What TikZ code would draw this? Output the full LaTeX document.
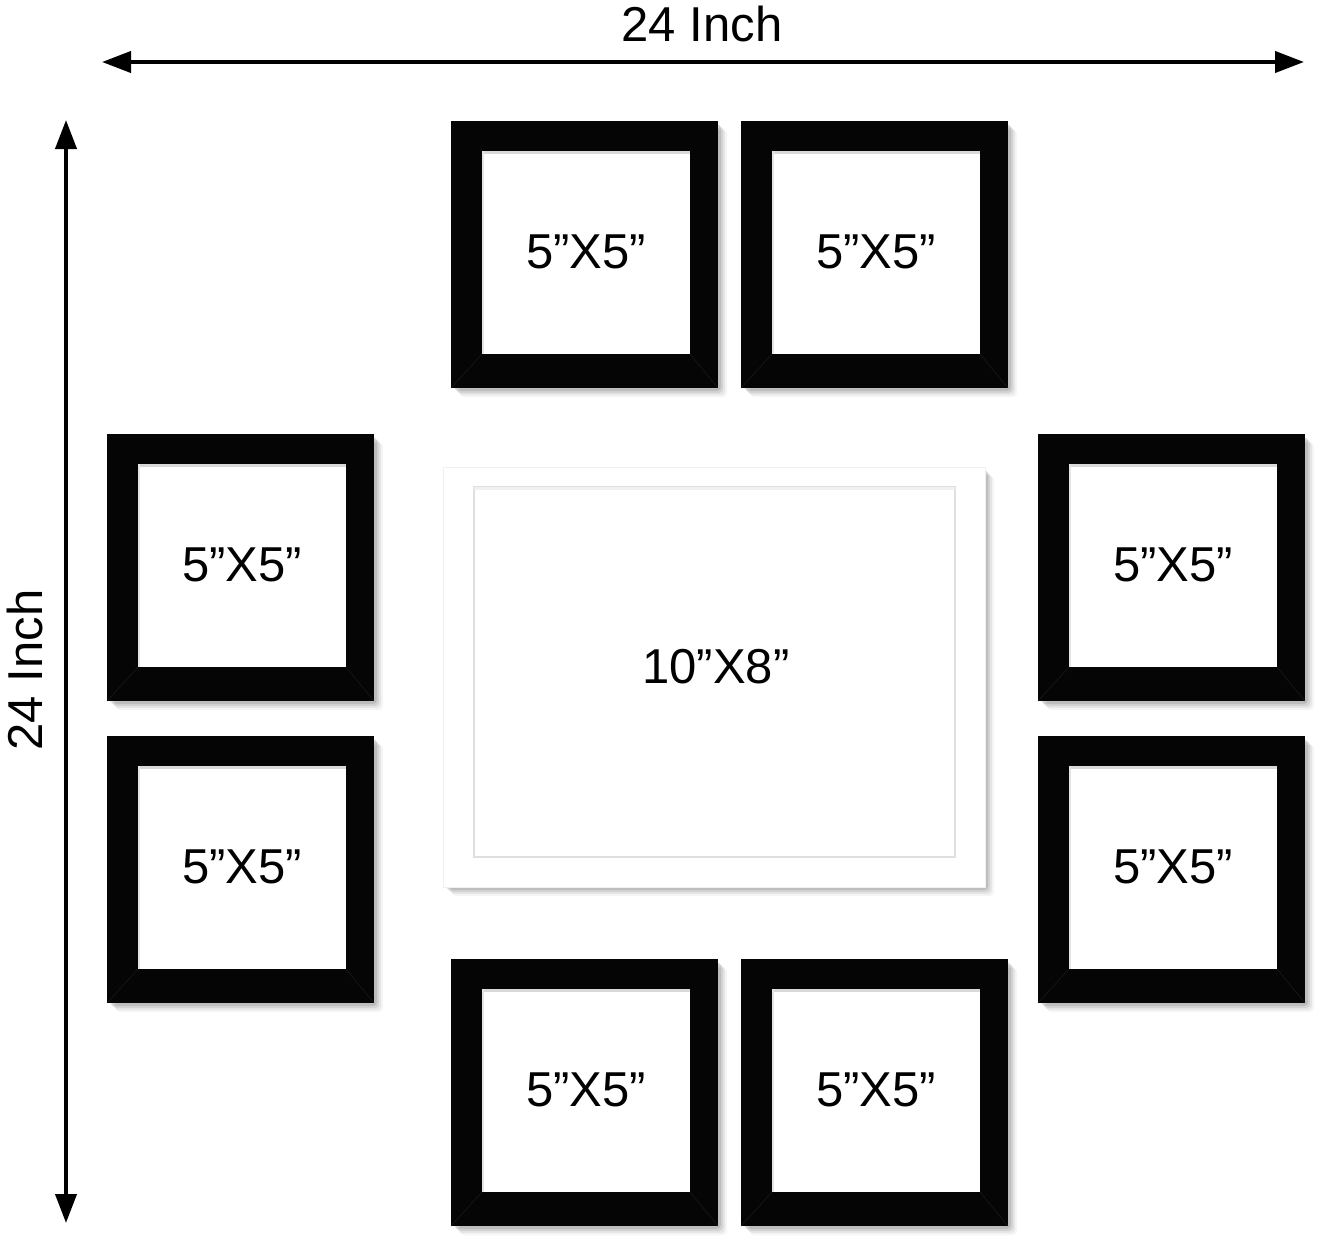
\documentclass[tikz,border=0pt]{standalone}
\usepackage{fontspec}
\setmainfont{Liberation Sans}
\usetikzlibrary{arrows.meta}
\tikzset{
  lbl/.style={font=\fontsize{49}{58}\selectfont, inner sep=0pt, text=black},
  dimarrow/.style={line width=4pt, {Triangle[length=29pt,width=21pt]}-{Triangle[length=29pt,width=21pt]}},
  softshadow/.style={black, rounded corners=4pt},
  miter/.style={line width=0.6pt, black!90!white},
}
\newcommand\myshadow[4]{%
  \foreach \d/\o in {9/0.04,7/0.06,5/0.08,3/0.10}{%
    \fill[softshadow, opacity=\o] (#1+\d,#2+\d) rectangle (#3+\d,#4+\d);}%
}
% black frame: name, x, y (top-left corner)
\newcommand\bframe[3]{%
  \myshadow{#2}{#3}{#2+267}{#3+267}
  \fill[black!98] (#2,#3) rectangle (#2+267,#3+267);
  \draw[miter] (#2,#3+267) -- (#2+31,#3+233);
  \draw[miter] (#2+267,#3+267) -- (#2+239,#3+233);
  \fill[white] (#2+31,#3+30) rectangle (#2+239,#3+233);
  \fill[gray!30] (#2+31,#3+30) rectangle (#2+239,#3+33);
  \fill[gray!20] (#2+31,#3+30) rectangle (#2+33,#3+233);
  \node[lbl] (#1) at (#2+135,#3+131) {5”X5”};
}
\begin{document}
\begin{tikzpicture}[x=1pt,y=-1pt]
\useasboundingbox (0,0) rectangle (1322,1244);
\fill[white] (0,0) rectangle (1322,1244);

% dimension arrows
\coordinate (hl) at (102,62);
\coordinate (hr) at (1304,62);
\coordinate (vt) at (66,120);
\coordinate (vb) at (66,1223);
\draw[dimarrow] (hl) -- (hr);
\draw[dimarrow] (vt) -- (vb);
\node[lbl] (wlabel) at (702,24) {24 Inch};
\node[lbl, rotate=90] (hlabel) at (25,670) {24 Inch};

% black frames
\bframe{ft1}{451}{121}
\bframe{ft2}{741}{121}
\bframe{fl1}{107}{434}
\bframe{fl2}{107}{736}
\bframe{fr1}{1038}{434}
\bframe{fr2}{1038}{736}
\bframe{fb1}{451}{959}
\bframe{fb2}{741}{959}

% white centre frame
\myshadow{443}{467}{985}{887}
\fill[white] (443,467) rectangle (985,887);
\draw[gray!12, line width=1pt] (443,467) rectangle (985,887);
\draw[gray!25, line width=1.2pt] (474,487) rectangle (955,857);
\fill[gray!12] (474,487) rectangle (955,490);
\node[lbl] (fc) at (716,667) {10”X8”};
\end{tikzpicture}
\end{document}
